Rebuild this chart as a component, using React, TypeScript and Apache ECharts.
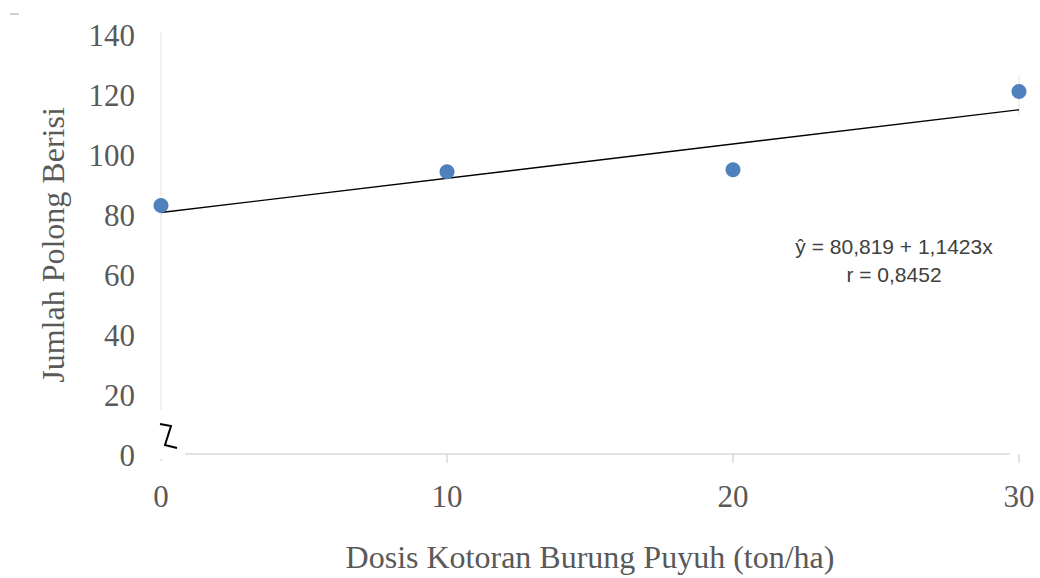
import React, { useEffect, useRef } from "react";
import * as echarts from "echarts";

// Dose of quail manure (ton/ha) and number of filled pods
const doses = [0, 10, 20, 30];
const pods = [83.2, 94.4, 95.1, 121.2];

// Regression fit stated on the chart
const intercept = 80.819;
const slope = 1.1423;
const rValue = "0,8452";

const xTicks = [0, 10, 20, 30];
const yMax = 140;
const yStep = 20;

const xTitle = "Dosis Kotoran Burung Puyuh (ton/ha)";
const yTitle = "Jumlah Polong Berisi";
const eqLine1 = `ŷ = ${String(intercept).replace(".", ",")} + ${String(slope).replace(".", ",")}x`;
const eqLine2 = `r = ${rValue}`;

const serif = "'Liberation Serif', 'Times New Roman', serif";
const sans = "'Liberation Sans', Arial, sans-serif";

export default function App() {
  const ref = useRef<HTMLDivElement>(null);

  useEffect(() => {
    document.body.style.margin = "0";
    const chart = echarts.init(ref.current!, null, { renderer: "svg" });
    const xMin = xTicks[0];
    const xMax = xTicks[xTicks.length - 1];
    const fitLine = [xMin, xMax].map((x) => [x, intercept + slope * x]);

    chart.setOption({
      animation: false,
      backgroundColor: "#ffffff",
      grid: { left: 161, right: 21, top: 35, bottom: 120, containLabel: false },
      xAxis: {
        type: "value",
        min: xMin,
        max: xMax,
        interval: 10,
        axisLine: { show: false },
        axisTick: { show: false },
        splitLine: { show: false },
        axisLabel: { fontFamily: serif, fontSize: 31, color: "#595959", margin: 26 },
        name: xTitle,
        nameLocation: "middle",
        nameGap: 86,
        nameTextStyle: { fontFamily: serif, fontSize: 32, color: "#595959" },
      },
      yAxis: {
        type: "value",
        min: 0,
        max: yMax,
        interval: yStep,
        axisLine: { show: false },
        axisTick: { show: false },
        splitLine: { show: false },
        axisLabel: { fontFamily: serif, fontSize: 31, color: "#595959", margin: 26 },
        name: yTitle,
        nameLocation: "middle",
        nameGap: 92,
        nameTextStyle: { fontFamily: serif, fontSize: 32, color: "#595959" },
      },
      series: [
        {
          type: "line",
          data: fitLine,
          showSymbol: false,
          symbol: "none",
          lineStyle: { color: "#000000", width: 1.4 },
          z: 2,
        },
        {
          type: "scatter",
          data: doses.map((d, i) => [d, pods[i]]),
          symbolSize: 15,
          itemStyle: { color: "#4F81BD", opacity: 1 },
          z: 3,
        },
      ],
    });

    const px = (x: number, y: number) =>
      chart.convertToPixel({ gridIndex: 0 }, [x, y]) as number[];

    const origin = px(xMin, 0);
    const yTop = px(xMin, yMax);
    const right = px(xMax, 0);
    const axisGray = "#D9D9D9";
    const cream = "#EEECE1";

    const graphic: any[] = [
      // vertical axis line, broken near the origin
      {
        type: "line",
        shape: { x1: origin[0], y1: yTop[1] - 3, x2: origin[0], y2: origin[1] - 45 },
        style: { stroke: cream, lineWidth: 1.5 },
        z: 1,
      },
      // short guide at the last dose
      {
        type: "line",
        shape: { x1: right[0], y1: yTop[1] + 40, x2: right[0], y2: yTop[1] + 80 },
        style: { stroke: cream, lineWidth: 1.5 },
        z: 1,
      },
      // horizontal axis line starting after the break
      {
        type: "line",
        shape: { x1: origin[0] + 24, y1: origin[1] - 1, x2: right[0] - 9, y2: origin[1] - 1 },
        style: { stroke: axisGray, lineWidth: 1.5 },
        z: 1,
      },
      // axis break mark
      {
        type: "polyline",
        shape: {
          points: [
            [origin[0] - 1, origin[1] - 31],
            [origin[0] + 10, origin[1] - 29],
            [origin[0] + 4, origin[1] - 10],
            [origin[0] + 16, origin[1] - 7],
          ],
        },
        style: { stroke: "#000000", lineWidth: 2, fill: null },
        z: 4,
      },
      // tiny tick under the origin
      {
        type: "line",
        shape: { x1: origin[0], y1: origin[1] + 4, x2: origin[0], y2: origin[1] + 6 },
        style: { stroke: axisGray, lineWidth: 1.5 },
      },
      // stray mark in the corner
      {
        type: "rect",
        shape: { x: 10, y: 13, width: 9, height: 2 },
        style: { fill: "#D0D0D0" },
      },
      {
        type: "text",
        x: 894,
        y: 246,
        style: {
          text: eqLine1,
          fontFamily: sans,
          fontSize: 21,
          fill: "#404040",
          textAlign: "center",
          textVerticalAlign: "middle",
        },
        z: 5,
      },
      {
        type: "text",
        x: 894,
        y: 274,
        style: {
          text: eqLine2,
          fontFamily: sans,
          fontSize: 21,
          fill: "#404040",
          textAlign: "center",
          textVerticalAlign: "middle",
        },
        z: 5,
      },
    ];

    // downward ticks on the horizontal axis
    xTicks.slice(1).forEach((t) => {
      const p = px(t, 0);
      graphic.push({
        type: "line",
        shape: { x1: p[0], y1: origin[1] - 1, x2: p[0], y2: origin[1] + 8 },
        style: { stroke: axisGray, lineWidth: 1.5 },
        z: 1,
      });
    });

    chart.setOption({ graphic });

    return () => chart.dispose();
  }, []);

  return <div ref={ref} style={{ width: 1040, height: 578 }} />;
}
